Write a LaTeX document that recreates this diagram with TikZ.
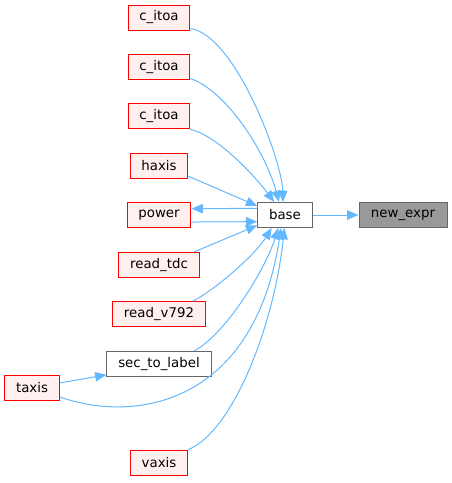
\documentclass[tikz,border=0pt]{standalone}
\usepackage{fontspec}
\setmainfont{DejaVu Sans}
\usetikzlibrary{arrows.meta,positioning}
\definecolor{edgeblue}{HTML}{63B8FF}
\definecolor{fnfill}{HTML}{FFF0F0}
\definecolor{focusfill}{HTML}{999999}
\definecolor{plainline}{HTML}{666666}
\tikzset{
  fn/.style={rectangle, draw=red, fill=fnfill, line width=0.75pt, minimum height=18.75pt, inner xsep=8.5pt, font=\fontsize{10}{12}\selectfont},
  plainfn/.style={fn, draw=plainline, fill=white},
  focusfn/.style={fn, draw=plainline, fill=focusfill},
  call/.style={draw=edgeblue, line width=0.75pt, -{Triangle[length=8.5pt, width=7pt]}}
}

\begin{document}
\begin{tikzpicture}[x=0.75pt, y=-0.75pt, node distance=37.1pt]
\useasboundingbox (0,0) rectangle (451,483);
\node (citoa1) [fn] at (159,17.5) {c\_itoa};
\node (citoa2) [fn, below of=citoa1] {c\_itoa};
\node (citoa3) [fn, below of=citoa2] {c\_itoa};
\node (haxis) [fn, below of=citoa3] {haxis};
\node (power) [fn, below of=haxis] {power};
\node (readtdc) [fn, below of=power] {read\_tdc};
\node (readv792) [fn, below of=readtdc] {read\_v792};
\node (sectolabel) [plainfn, below of=readv792, minimum width=78pt] {sec\_to\_label};
\node (vaxis) [fn, below of=sectolabel, node distance=74.2pt] {vaxis};
\node (taxis) [fn] at (32,388) {taxis};
\node (base) [plainfn] at (285,215) {base};
\node (newexpr) [focusfn, minimum width=66pt] at (403,215) {new\_expr};

\draw[call] (base) -- (newexpr);
\draw[call] ([yshift=1.5pt]citoa1.south east) .. controls (235,35) and (282,160) .. ([xshift=-1.5pt]base.north);
\draw[call] ([yshift=1pt]citoa2.south east) .. controls (225,90) and (265,150) .. ([xshift=-4.5pt]base.north);
\draw[call] (citoa3.south east) .. controls (215,135) and (250,170) .. ([xshift=-8pt]base.north);
\draw[call] ([yshift=2pt]haxis.south east) -- ([yshift=-3pt]base.north west);
\draw[call] ([yshift=-5pt]power.east) -- ([yshift=-5pt]base.west);
\draw[call] ([yshift=5pt]base.west) -- ([yshift=5pt]power.east);
\draw[call] ([xshift=-4pt]readtdc.north east) -- ([yshift=2pt]base.south west);
\draw[call] ([xshift=-10pt]readv792.north east) .. controls (215,290) and (255,255) .. ([xshift=-10pt]base.south);
\draw[call] ([xshift=-13pt]sectolabel.north east) .. controls (225,335) and (265,270) .. ([xshift=-5pt]base.south);
\draw[call] ([yshift=-6.75pt]taxis.east) .. controls (140,425) and (255,400) .. ([xshift=-3pt]base.south);
\draw[call] (vaxis.north east) .. controls (235,430) and (275,320) .. ([xshift=-0.5pt]base.south);
\draw[call] ([yshift=3.75pt]taxis.east) -- ([yshift=1.5pt]sectolabel.south west);
\end{tikzpicture}
\end{document}
